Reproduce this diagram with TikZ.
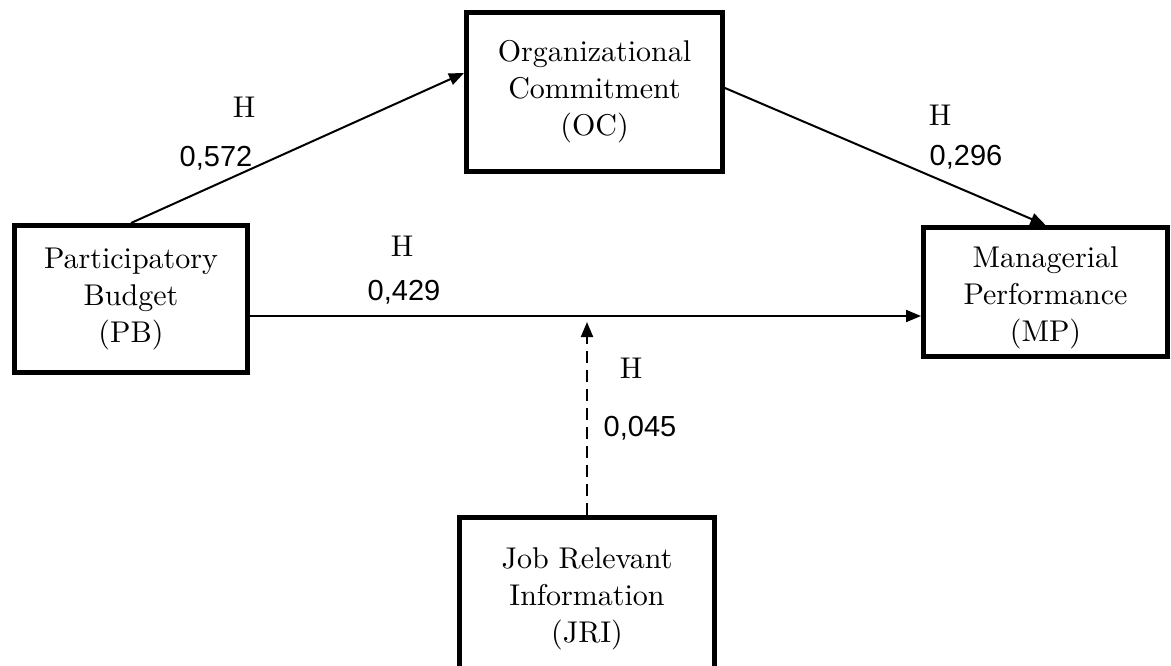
\documentclass[tikz,border=0pt]{standalone}
\usepackage{fontspec}
\newfontfamily\numfont{Liberation Sans}
\newfontfamily\boxfont{lmroman10-regular.otf}
\usetikzlibrary{arrows.meta}
\tikzset{
  box/.style={draw, line width=5pt, inner sep=0pt, align=center,
    font=\boxfont\fontsize{30}{37}\selectfont},
  conn/.style={line width=2pt, -{Triangle[length=15pt,width=12pt]}},
  hlab/.style={inner sep=0pt, font=\boxfont\fontsize{30}{36}\selectfont},
  vlab/.style={inner sep=0pt, font=\numfont\fontsize{29}{32}\selectfont},
}
\begin{document}
\begin{tikzpicture}[x=1pt,y=-1pt]
\useasboundingbox (0,0) rectangle (1171,665);
\node[box, minimum width=233pt, minimum height=147pt] (pb) at (131,299) {Participatory\\Budget\\(PB)};
\node[box, minimum width=256pt, minimum height=159pt] (oc) at (594.5,92) {Organizational\\Commitment\\(OC)};
\node[box, minimum width=244pt, minimum height=129pt] (mp) at (1045.5,292) {\rule{0pt}{33pt}Managerial\\Performance\\(MP)};
\node[box, minimum width=255pt, minimum height=162pt] (jri) at (587,598.5) {Job Relevant\\Information\\(JRI)};

\coordinate (h) at ([yshift=-17pt]pb.east);
\coordinate (jt) at ([yshift=-6pt]jri.north |- h);

\draw[conn] (pb.north) -- ([yshift=19pt]oc.west);
\draw[conn] ([yshift=4pt]oc.east) -- (mp.north);
\draw[conn] (h) -- (h -| mp.west);
\draw[conn, dash pattern=on 12pt off 7pt] (jri.north) -- (jt);

\node[hlab] (h1) at (244,107) {H};
\node[vlab] (v1) at (216,158) {0,572};
\node[hlab] (h2) at (940,115) {H};
\node[vlab] (v2) at (966,157) {0,296};
\node[hlab] (h3) at (402,246) {H};
\node[vlab] (v3) at (404,292) {0,429};
\node[hlab] (h4) at (631,368) {H};
\node[vlab] (v4) at (640,428) {0,045};
\end{tikzpicture}
\end{document}
